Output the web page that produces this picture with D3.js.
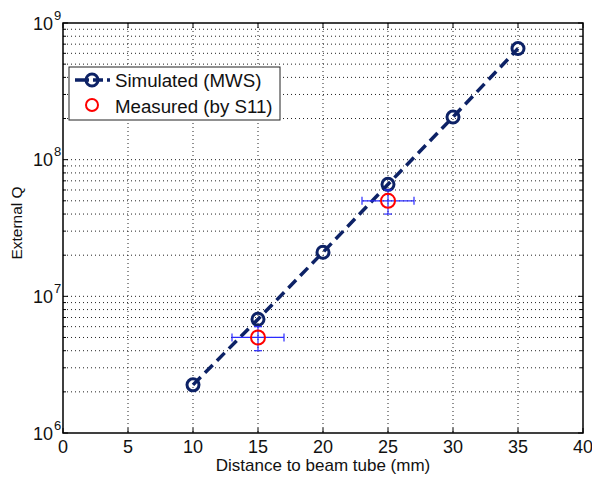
<!DOCTYPE html>
<html><head><meta charset="utf-8">
<script src="https://cdn.jsdelivr.net/npm/d3@7"></script>
<style>body{margin:0;background:#fff}svg{display:block;font-family:"Liberation Sans",Arial,sans-serif}</style>
</head><body><svg id="c" width="592" height="479"></svg>
<script>
const simX = [10, 15, 20, 25, 30, 35];
const simQ = [2.25e6, 6.8e6, 2.1e7, 6.6e7, 2.05e8, 6.5e8];
const measX = [15, 25];
const measQ = [5e6, 5e7];
const measXErr = [2, 2];
const measQLo = [4e6, 4e7];
const measQHi = [6e6, 6e7];
const xTicks = [0, 5, 10, 15, 20, 25, 30, 35, 40];
const yExps = [6, 7, 8, 9];
const legendLabels = ["Simulated (MWS)", "Measured (by S11)"];

const svg = d3.select("#c");
const L = 63, T = 23, W = 520, H = 410;
const x = d3.scaleLinear().domain([0, 40]).range([L, L + W]);
const y = d3.scaleLog().domain([1e6, 1e9]).range([T + H, T]);
const navy = "#0d2266";

// grid
const g = svg.append("g");
xTicks.slice(1, -1).forEach(v => {
  g.append("line").attr("x1", x(v)).attr("x2", x(v)).attr("y1", T).attr("y2", T + H)
    .attr("stroke", "#222").attr("stroke-width", 1).attr("stroke-dasharray", "1,3");
});
const yMinor = [];
for (let e = 6; e < 9; e++) for (let m = 1; m <= 9; m++) { if (!(e === 6 && m === 1)) yMinor.push(m * Math.pow(10, e)); }
yMinor.forEach(v => {
  g.append("line").attr("x1", L).attr("x2", L + W).attr("y1", y(v)).attr("y2", y(v))
    .attr("stroke", "#222").attr("stroke-width", 1).attr("stroke-dasharray", "1,3");
});

// ticks
const tk = svg.append("g").attr("stroke", "#000").attr("stroke-width", 1);
xTicks.forEach(v => {
  tk.append("line").attr("x1", x(v)).attr("x2", x(v)).attr("y1", T + H).attr("y2", T + H - 5);
  tk.append("line").attr("x1", x(v)).attr("x2", x(v)).attr("y1", T).attr("y2", T + 5);
});
yMinor.concat([1e6, 1e9]).forEach(v => {
  const major = Math.abs(Math.log10(v) - Math.round(Math.log10(v))) < 1e-9;
  const len = major ? 5 : 3;
  tk.append("line").attr("x1", L).attr("x2", L + len).attr("y1", y(v)).attr("y2", y(v));
  tk.append("line").attr("x1", L + W).attr("x2", L + W - len).attr("y1", y(v)).attr("y2", y(v));
});

// box
svg.append("rect").attr("x", L).attr("y", T).attr("width", W).attr("height", H)
  .attr("fill", "none").attr("stroke", "#000").attr("stroke-width", 1.5);

// tick labels
xTicks.forEach(v => {
  svg.append("text").attr("x", x(v)).attr("y", T + H + 20).attr("text-anchor", "middle")
    .attr("font-size", 18).attr("fill", "#111").text(v);
});
yExps.forEach(e => {
  svg.append("text").attr("x", 53).attr("y", y(Math.pow(10, e)) + 6.5)
    .attr("text-anchor", "end").attr("font-size", 18).attr("fill", "#111").text("10");
  svg.append("text").attr("x", 54).attr("y", y(Math.pow(10, e)) - 3.5)
    .attr("font-size", 13).attr("fill", "#111").text(e);
});

// axis labels
svg.append("text").attr("x", x(20)).attr("y", 471).attr("text-anchor", "middle")
  .attr("font-size", 17).attr("fill", "#111").text("Distance to beam tube (mm)");
svg.append("text").attr("transform", `translate(22,${223}) rotate(-90)`).attr("text-anchor", "middle")
  .attr("font-size", 15.5).attr("fill", "#111").text("External Q");

// simulated line
const line = d3.line().x((d, i) => x(simX[i])).y(d => y(d));
svg.append("path").datum(simQ).attr("d", line).attr("fill", "none")
  .attr("stroke", navy).attr("stroke-width", 3.5).attr("stroke-dasharray", "11,6");
svg.selectAll(".sm").data(simQ).enter().append("circle")
  .attr("cx", (d, i) => x(simX[i])).attr("cy", d => y(d)).attr("r", 6)
  .attr("fill", "none").attr("stroke", navy).attr("stroke-width", 3);

// error bars
const eb = svg.append("g").attr("stroke", "#2b2bff").attr("stroke-width", 1.2);
measX.forEach((mx, i) => {
  const cy = y(measQ[i]);
  eb.append("line").attr("x1", x(mx - measXErr[i])).attr("x2", x(mx + measXErr[i])).attr("y1", cy).attr("y2", cy);
  eb.append("line").attr("x1", x(mx - measXErr[i])).attr("x2", x(mx - measXErr[i])).attr("y1", cy - 4).attr("y2", cy + 4);
  eb.append("line").attr("x1", x(mx + measXErr[i])).attr("x2", x(mx + measXErr[i])).attr("y1", cy - 4).attr("y2", cy + 4);
  eb.append("line").attr("x1", x(mx)).attr("x2", x(mx)).attr("y1", y(measQLo[i])).attr("y2", y(measQHi[i]));
  eb.append("line").attr("x1", x(mx) - 4).attr("x2", x(mx) + 4).attr("y1", y(measQLo[i])).attr("y2", y(measQLo[i]));
  eb.append("line").attr("x1", x(mx) - 4).attr("x2", x(mx) + 4).attr("y1", y(measQHi[i])).attr("y2", y(measQHi[i]));
});
svg.selectAll(".mm").data(measQ).enter().append("circle")
  .attr("cx", (d, i) => x(measX[i])).attr("cy", d => y(d)).attr("r", 7)
  .attr("fill", "none").attr("stroke", "#ff0000").attr("stroke-width", 2);

// legend
const lg = svg.append("g");
lg.append("rect").attr("x", 69).attr("y", 67).attr("width", 211).attr("height", 53)
  .attr("fill", "#fff").attr("stroke", "#222").attr("stroke-width", 1);
lg.append("line").attr("x1", 75).attr("x2", 110).attr("y1", 80).attr("y2", 80)
  .attr("stroke", navy).attr("stroke-width", 3.5).attr("stroke-dasharray", "14,4,10,4");
lg.append("circle").attr("cx", 92).attr("cy", 80).attr("r", 6).attr("fill", "none")
  .attr("stroke", navy).attr("stroke-width", 3);
lg.append("circle").attr("cx", 92).attr("cy", 105).attr("r", 6).attr("fill", "none")
  .attr("stroke", "#ff0000").attr("stroke-width", 2);
lg.append("text").attr("x", 115).attr("y", 86.5).attr("font-size", 18.7).attr("fill", "#111").text(legendLabels[0]);
lg.append("text").attr("x", 115).attr("y", 112.5).attr("font-size", 18.7).attr("fill", "#111").text(legendLabels[1]);
</script></body></html>
